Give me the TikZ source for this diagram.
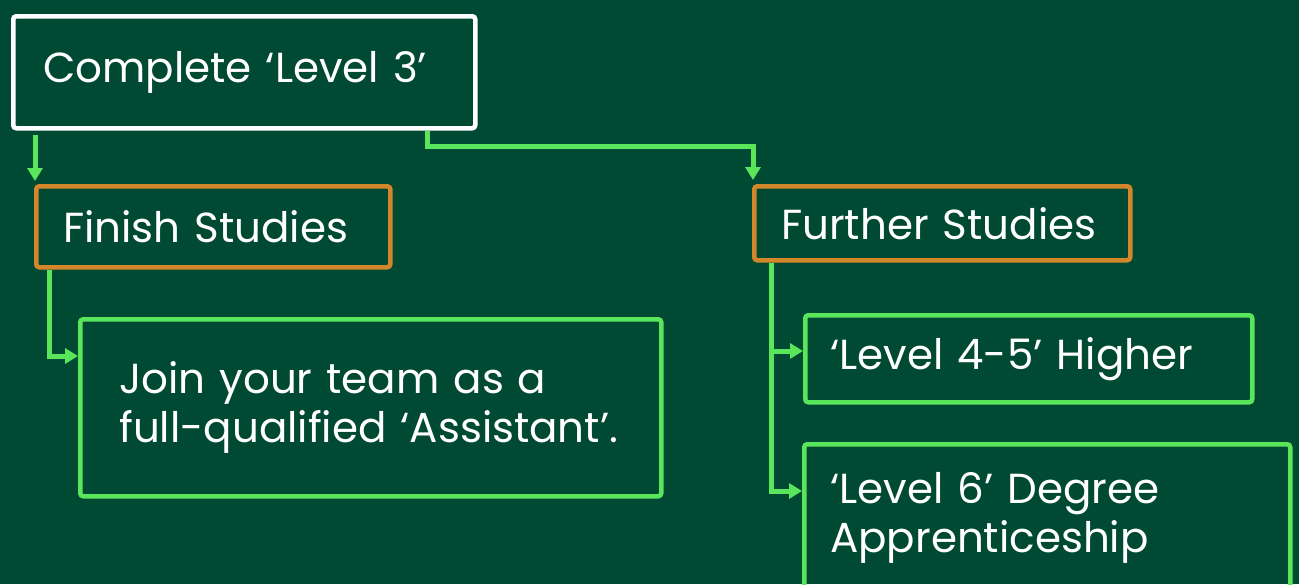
\documentclass[tikz,border=0pt]{standalone}
\usepackage{fontspec}
\setmainfont{Poppins}
\usetikzlibrary{arrows.meta}
\definecolor{bg}{RGB}{0,74,52}
\definecolor{lime}{RGB}{90,230,90}
\definecolor{amber}{RGB}{212,134,42}
\tikzset{
  boxnode/.style={draw, line width=4.5pt, rounded corners=3pt, text=white, align=left,
    anchor=north west, inner ysep=0pt, font=\fontsize{42}{49}\selectfont},
  arr/.style={draw=lime, line width=5pt, -{Triangle[width=15pt,length=13pt]}}
}
\begin{document}
\begin{tikzpicture}[x=1pt,y=-1pt]
\fill[bg] (0,0) rectangle (1299,584);
\useasboundingbox (0,0) rectangle (1299,584);
\clip (0,0) rectangle (1299,584);
\node[boxnode, draw=white, minimum height=112pt, text width=402pt, inner xsep=30pt] (top) at (11,14) {\mbox{Complete ‘Level 3’}};
\node[boxnode, draw=amber, minimum height=81pt, text width=300pt, inner xsep=27pt] (finish) at (34,184) {\mbox{Finish Studies}};
\node[boxnode, draw=amber, minimum height=74pt, text width=322pt, inner xsep=27pt] (further) at (752,184) {\mbox{Further Studies}};
\node[boxnode, draw=lime, minimum height=177pt, text width=503pt, inner xsep=39pt] (join) at (78,317) {\mbox{Join your team as a}\\\mbox{full-qualified ‘Assistant’.}};
\node[boxnode, draw=lime, minimum height=87pt, text width=397pt, inner xsep=25pt] (lfour) at (803,313) {\mbox{‘Level 4-5’ Higher}};
\node[boxnode, draw=lime, minimum height=147pt, text width=434pt, inner xsep=26pt] (lsix) at (802,442) {\mbox{‘Level 6’ Degree}\\\mbox{Apprenticeship}};
\draw[arr] ([xshift=1pt,yshift=-4pt]finish.north west |- top.south) -- ([xshift=1pt,yshift=3pt]finish.north west);
\draw[arr] ([xshift=-50pt]top.south east) -- ++(0,16) -| ([xshift=1pt,yshift=4pt]further.north west);
\draw[arr] ([xshift=15pt]finish.south west) |- ([yshift=-39pt]join.north west);
\draw[arr] ([xshift=19pt]further.south west) |- ([yshift=-38pt]lfour.north west);
\draw[arr] ([xshift=19pt]further.south west) |- ([yshift=-49pt]lsix.north west);
\end{tikzpicture}
\end{document}
